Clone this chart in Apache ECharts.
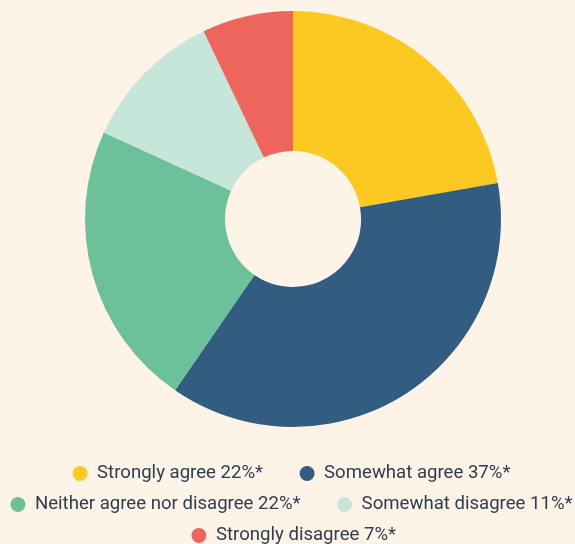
<!DOCTYPE html>
<html>
<head>
<meta charset="utf-8">
<script src="https://cdn.jsdelivr.net/npm/echarts@6/dist/echarts.min.js"></script>
<style>
html,body{margin:0;padding:0;background:#fdf3e6;}
#chart{width:575px;height:544px;}
</style>
</head>
<body>
<div id="chart"></div>
<script>
var categories = ["Strongly agree", "Somewhat agree", "Neither agree nor disagree", "Somewhat disagree", "Strongly disagree"];
var values = [22, 37, 22, 11, 7];
var colors = ["#fcc822", "#335c81", "#6cc09a", "#c7e6da", "#ee655e"];
var legendRows = [[0, 1], [2, 3], [4]];

var names = categories.map(function (c, i) { return c + " " + values[i] + "%*"; });
var chart = echarts.init(document.getElementById('chart'));

var FONT_SIZE = 18.6, ITEM_W = 24, ITEM_H = 15, ITEM_GAP = 36.5, CX = 293, LEGEND_CX = 296;
var ctx = document.createElement('canvas').getContext('2d');
ctx.font = FONT_SIZE + 'px Roboto';
var legendTops = [464, 495, 526];
var legends = legendRows.map(function (row, r) {
  var w = 0;
  row.forEach(function (i, k) {
    w += ITEM_W + 5 + ctx.measureText(names[i]).width;
    if (k > 0) w += ITEM_GAP;
  });
  return {
    data: row.map(function (i) { return names[i]; }),
    left: LEGEND_CX - w / 2,
    top: legendTops[r],
    padding: 0,
    icon: 'circle',
    itemWidth: ITEM_W,
    itemHeight: ITEM_H,
    itemGap: ITEM_GAP,
    selectedMode: false,
    textStyle: { fontFamily: 'Roboto', fontSize: FONT_SIZE, color: '#2d3e50' }
  };
});
chart.setOption({
  backgroundColor: '#fdf3e6',
  animation: false,
  color: colors,
  legend: legends,
  series: [{
    type: 'pie',
    center: [CX, 219],
    radius: [68, 208],
    startAngle: 90,
    clockwise: true,
    label: { show: false },
    labelLine: { show: false },
    itemStyle: { borderWidth: 0 },
    emphasis: { disabled: true },
    data: names.map(function (n, i) { return { name: n, value: values[i] }; })
  }]
});
</script>
</body>
</html>
